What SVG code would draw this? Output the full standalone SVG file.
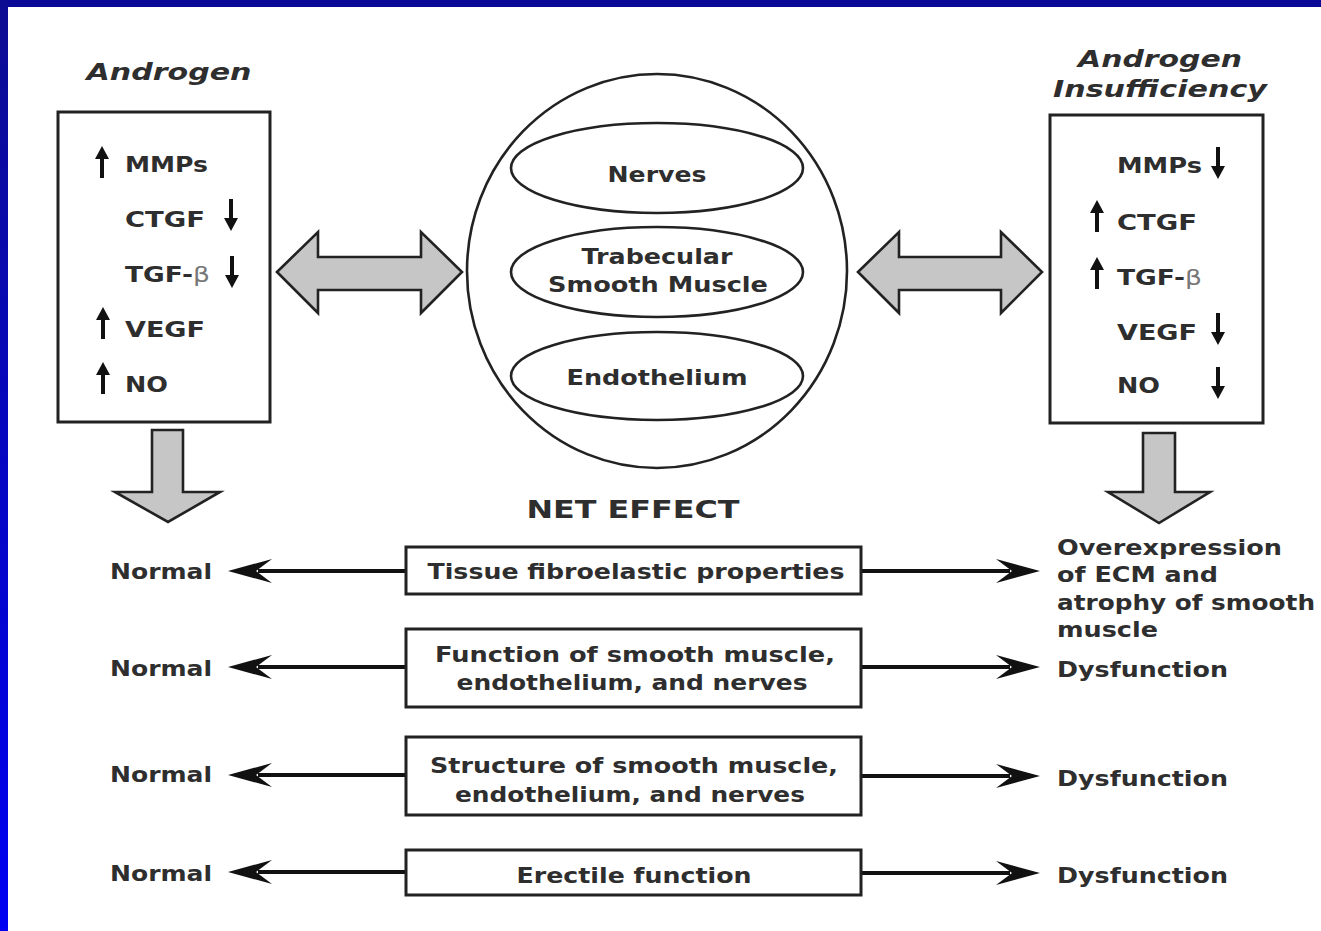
<svg xmlns="http://www.w3.org/2000/svg" xmlns:xlink="http://www.w3.org/1999/xlink" width="1321" height="931" viewBox="0 0 1321 931">
<style>
.t{font-family:"DejaVu Sans","Liberation Sans",sans-serif;font-weight:bold;font-size:22px;fill:#2e2e2e}
.ti{font-style:italic;font-size:23px}
.c{text-anchor:middle}
.box{fill:#fff;stroke:#222;stroke-width:3}
.ell{fill:#fff;stroke:#222;stroke-width:2.6}
.blk{fill:#c6c6c6;stroke:#222;stroke-width:2.6;stroke-linejoin:miter}
.conn{stroke:#111;stroke-width:4;fill:none}
.beta{font-weight:normal;fill:#777}
</style>
<defs>
<linearGradient id="side" x1="0" y1="0" x2="0" y2="1">
<stop offset="0" stop-color="#0c0c92"/>
<stop offset="1" stop-color="#0000f2"/>
</linearGradient>
<marker id="barb" markerUnits="userSpaceOnUse" viewBox="-32 -14 50 28" refX="0" refY="0" markerWidth="50" markerHeight="28" orient="auto" overflow="visible">
<path d="M30,0 L-14,-12 L2,0 L-14,12 Z" fill="#111"/>
</marker>
<g id="up"><line x1="0" y1="32" x2="0" y2="9" stroke="#111" stroke-width="4"/><path d="M-7,13 L0,0 L7,13 Z" fill="#111"/></g>
<g id="down"><line x1="0" y1="0" x2="0" y2="23" stroke="#111" stroke-width="4"/><path d="M-7,19 L0,32 L7,19 Z" fill="#111"/></g>
</defs>

<rect x="0" y="0" width="1321" height="931" fill="#fff"/>
<rect x="0" y="0" width="1321" height="7" fill="#0a0a96"/>
<rect x="0" y="0" width="8" height="931" fill="url(#side)"/>

<g id="androgen">
<text class="t ti c" x="169" y="80" textLength="165" lengthAdjust="spacingAndGlyphs">Androgen</text>
<rect class="box" x="58" y="112" width="212" height="310"/>
<use href="#up" x="102" y="146"/>
<text class="t" x="125" y="172" textLength="83" lengthAdjust="spacingAndGlyphs">MMPs</text>
<text class="t" x="125" y="227" textLength="80" lengthAdjust="spacingAndGlyphs">CTGF</text>
<use href="#down" x="231" y="199"/>
<text class="t" x="125" y="282" textLength="85" lengthAdjust="spacingAndGlyphs">TGF-<tspan class="beta">β</tspan></text>
<use href="#down" x="232" y="256"/>
<use href="#up" x="103" y="307"/>
<text class="t" x="125" y="337" textLength="80" lengthAdjust="spacingAndGlyphs">VEGF</text>
<use href="#up" x="103" y="362"/>
<text class="t" x="125" y="392" textLength="43" lengthAdjust="spacingAndGlyphs">NO</text>
</g>

<g id="insufficiency">
<text class="t ti c" x="1160" y="67" textLength="164" lengthAdjust="spacingAndGlyphs">Androgen</text>
<text class="t ti c" x="1160" y="97" textLength="214" lengthAdjust="spacingAndGlyphs">Insufficiency</text>
<rect class="box" x="1050" y="115" width="213" height="308"/>
<text class="t" x="1117" y="173" textLength="85" lengthAdjust="spacingAndGlyphs">MMPs</text>
<use href="#down" x="1218" y="147"/>
<use href="#up" x="1097" y="200"/>
<text class="t" x="1117" y="230" textLength="80" lengthAdjust="spacingAndGlyphs">CTGF</text>
<use href="#up" x="1097" y="257"/>
<text class="t" x="1117" y="285" textLength="85" lengthAdjust="spacingAndGlyphs">TGF-<tspan class="beta">β</tspan></text>
<text class="t" x="1117" y="340" textLength="80" lengthAdjust="spacingAndGlyphs">VEGF</text>
<use href="#down" x="1218" y="313"/>
<text class="t" x="1117" y="393" textLength="43" lengthAdjust="spacingAndGlyphs">NO</text>
<use href="#down" x="1218" y="367"/>
</g>

<g id="tissue">
<ellipse class="ell" cx="657" cy="271" rx="190" ry="197"/>
<g id="nerves">
<ellipse class="ell" cx="657" cy="168" rx="146" ry="45"/>
<text class="t c" x="657" y="182" textLength="99" lengthAdjust="spacingAndGlyphs">Nerves</text>
</g>
<g id="smooth-muscle">
<ellipse class="ell" cx="657" cy="272" rx="146" ry="45"/>
<text class="t c" x="657" y="264" textLength="151" lengthAdjust="spacingAndGlyphs">Trabecular</text>
<text class="t c" x="658" y="292" textLength="220" lengthAdjust="spacingAndGlyphs">Smooth Muscle</text>
</g>
<g id="endothelium">
<ellipse class="ell" cx="657" cy="376" rx="146" ry="44"/>
<text class="t c" x="657" y="385" textLength="181" lengthAdjust="spacingAndGlyphs">Endothelium</text>
</g>
</g>

<g id="block-arrows">
<path class="blk" d="M277,272 L318,232 L318,257 L421,257 L421,232 L462,272 L421,313 L421,290 L318,290 L318,313 Z"/>
<path class="blk" d="M858,272 L899,232 L899,257 L1001,257 L1001,232 L1042,272 L1001,313 L1001,290 L899,290 L899,313 Z"/>
<path class="blk" d="M152,430 L183,430 L183,492 L220,492 L168,522 L115,492 L152,492 Z"/>
<path class="blk" d="M1143,433 L1175,433 L1175,492 L1210,492 L1159,523 L1108,492 L1143,492 Z"/>
</g>

<text id="net-effect" class="t c" x="633" y="518" style="font-size:25px" textLength="213" lengthAdjust="spacingAndGlyphs">NET EFFECT</text>

<g id="connectors">
<line class="conn" x1="406" y1="571" x2="258" y2="571" marker-end="url(#barb)"/>
<line class="conn" x1="861" y1="571" x2="1010" y2="571" marker-end="url(#barb)"/>
<line class="conn" x1="406" y1="667" x2="258" y2="667" marker-end="url(#barb)"/>
<line class="conn" x1="861" y1="667" x2="1010" y2="667" marker-end="url(#barb)"/>
<line class="conn" x1="406" y1="775" x2="258" y2="775" marker-end="url(#barb)"/>
<line class="conn" x1="861" y1="776" x2="1010" y2="776" marker-end="url(#barb)"/>
<line class="conn" x1="406" y1="872" x2="258" y2="872" marker-end="url(#barb)"/>
<line class="conn" x1="861" y1="873" x2="1010" y2="873" marker-end="url(#barb)"/>
</g>

<g id="fibroelastic">
<rect class="box" x="406" y="547" width="455" height="47"/>
<text class="t c" x="636" y="579" textLength="417" lengthAdjust="spacingAndGlyphs">Tissue fibroelastic properties</text>
</g>
<g id="function">
<rect class="box" x="406" y="629" width="455" height="78"/>
<text class="t c" x="635" y="662" textLength="400" lengthAdjust="spacingAndGlyphs">Function of smooth muscle,</text>
<text class="t c" x="632" y="690" textLength="351" lengthAdjust="spacingAndGlyphs">endothelium, and nerves</text>
</g>
<g id="structure">
<rect class="box" x="406" y="737" width="455" height="78"/>
<text class="t c" x="634" y="773" textLength="408" lengthAdjust="spacingAndGlyphs">Structure of smooth muscle,</text>
<text class="t c" x="630" y="802" textLength="350" lengthAdjust="spacingAndGlyphs">endothelium, and nerves</text>
</g>
<g id="erectile">
<rect class="box" x="406" y="850" width="455" height="45"/>
<text class="t c" x="634" y="883" textLength="235" lengthAdjust="spacingAndGlyphs">Erectile function</text>
</g>

<g id="normal-labels">
<text class="t" x="110" y="579" textLength="102" lengthAdjust="spacingAndGlyphs">Normal</text>
<text class="t" x="110" y="676" textLength="102" lengthAdjust="spacingAndGlyphs">Normal</text>
<text class="t" x="110" y="782" textLength="102" lengthAdjust="spacingAndGlyphs">Normal</text>
<text class="t" x="110" y="881" textLength="102" lengthAdjust="spacingAndGlyphs">Normal</text>
</g>

<g id="dysfunction-labels">
<text class="t" x="1057" y="555" textLength="225" lengthAdjust="spacingAndGlyphs">Overexpression</text>
<text class="t" x="1057" y="582" textLength="161" lengthAdjust="spacingAndGlyphs">of ECM and</text>
<text class="t" x="1057" y="610" textLength="258" lengthAdjust="spacingAndGlyphs">atrophy of smooth</text>
<text class="t" x="1057" y="637" textLength="101" lengthAdjust="spacingAndGlyphs">muscle</text>
<text class="t" x="1057" y="677" textLength="171" lengthAdjust="spacingAndGlyphs">Dysfunction</text>
<text class="t" x="1057" y="786" textLength="171" lengthAdjust="spacingAndGlyphs">Dysfunction</text>
<text class="t" x="1057" y="883" textLength="171" lengthAdjust="spacingAndGlyphs">Dysfunction</text>
</g>
</svg>
